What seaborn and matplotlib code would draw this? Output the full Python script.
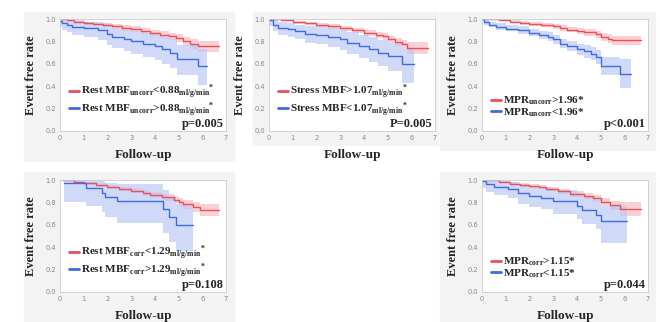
import matplotlib
matplotlib.use("Agg")
import matplotlib.pyplot as plt
from matplotlib.patches import Rectangle
import seaborn as sns

# Kaplan-Meier style curves.
# Panel 1: rest MBF uncorrected
p1_red_t = [0, 0.3, 0.6, 1.0, 1.4, 1.8, 2.2, 2.6, 3.0, 3.4, 3.8, 4.2, 4.6, 4.9, 5.2, 5.5, 5.8, 6.7]
p1_red_s = [1.0, 0.99, 0.975, 0.96, 0.955, 0.945, 0.935, 0.92, 0.91, 0.895, 0.875, 0.86, 0.845, 0.83, 0.80, 0.78, 0.755, 0.755]
p1_red_lo = [1.0, 0.98, 0.963, 0.945, 0.938, 0.926, 0.914, 0.897, 0.885, 0.868, 0.846, 0.83, 0.813, 0.795, 0.76, 0.735, 0.705, 0.705]
p1_red_hi = [1.0, 1.0, 0.987, 0.975, 0.972, 0.964, 0.956, 0.943, 0.935, 0.922, 0.904, 0.89, 0.877, 0.865, 0.84, 0.825, 0.805, 0.805]
p1_blue_t = [0, 0.1, 0.3, 0.5, 1.0, 1.6, 2.0, 2.2, 2.7, 3.0, 3.5, 4.0, 4.3, 4.65, 4.95, 5.8, 6.2]
p1_blue_s = [0.98, 0.96, 0.945, 0.93, 0.92, 0.90, 0.87, 0.84, 0.82, 0.80, 0.78, 0.76, 0.73, 0.70, 0.645, 0.58, 0.58]
p1_blue_lo = [0.93, 0.90, 0.88, 0.86, 0.84, 0.81, 0.77, 0.74, 0.71, 0.69, 0.66, 0.63, 0.60, 0.56, 0.50, 0.41, 0.41]
p1_blue_hi = [1.0, 1.0, 0.99, 0.98, 0.975, 0.96, 0.945, 0.92, 0.905, 0.89, 0.875, 0.86, 0.84, 0.82, 0.77, 0.73, 0.73]

# Panel 2: stress MBF
p2_red_t = [0, 0.5, 1.0, 1.5, 2.0, 2.5, 3.0, 3.5, 4.0, 4.5, 4.8, 5.0, 5.3, 5.6, 5.8, 6.7]
p2_red_s = [1.0, 0.99, 0.97, 0.96, 0.95, 0.935, 0.92, 0.90, 0.875, 0.86, 0.845, 0.82, 0.795, 0.775, 0.745, 0.745]
p2_red_lo = [1.0, 0.978, 0.955, 0.942, 0.93, 0.913, 0.896, 0.873, 0.845, 0.828, 0.811, 0.784, 0.755, 0.73, 0.69, 0.69]
p2_red_hi = [1.0, 1.0, 0.982, 0.974, 0.966, 0.953, 0.94, 0.922, 0.899, 0.886, 0.873, 0.85, 0.829, 0.815, 0.795, 0.795]
p2_blue_t = [0, 0.15, 0.4, 0.8, 1.1, 1.5, 2.0, 2.5, 3.0, 3.3, 3.8, 4.2, 4.6, 5.0, 5.6, 6.1]
p2_blue_s = [0.99, 0.95, 0.92, 0.91, 0.89, 0.87, 0.86, 0.84, 0.82, 0.79, 0.76, 0.73, 0.70, 0.67, 0.60, 0.60]
p2_blue_lo = [0.94, 0.89, 0.86, 0.84, 0.82, 0.79, 0.78, 0.75, 0.72, 0.69, 0.65, 0.62, 0.58, 0.54, 0.43, 0.43]
p2_blue_hi = [1.0, 0.99, 0.97, 0.965, 0.95, 0.94, 0.935, 0.92, 0.905, 0.885, 0.86, 0.84, 0.815, 0.79, 0.73, 0.73]

# Panel 3: MPR uncorrected
p3_red_t = [0, 0.7, 1.2, 1.6, 2.0, 2.5, 3.0, 3.3, 3.6, 4.0, 4.3, 4.8, 5.0, 5.3, 5.5, 6.7]
p3_red_s = [1.0, 0.99, 0.975, 0.965, 0.955, 0.945, 0.935, 0.92, 0.905, 0.895, 0.88, 0.865, 0.84, 0.825, 0.81, 0.81]
p3_red_lo = [1.0, 0.98, 0.962, 0.95, 0.938, 0.926, 0.914, 0.897, 0.88, 0.868, 0.851, 0.834, 0.805, 0.785, 0.765, 0.765]
p3_red_hi = [1.0, 1.0, 0.987, 0.979, 0.971, 0.963, 0.955, 0.942, 0.929, 0.921, 0.908, 0.895, 0.873, 0.862, 0.852, 0.852]
p3_blue_t = [0, 0.1, 0.3, 0.6, 1.0, 1.5, 2.0, 2.4, 2.8, 3.0, 3.3, 3.6, 4.0, 4.3, 4.6, 4.8, 5.0, 5.8, 6.3]
p3_blue_s = [1.0, 0.97, 0.95, 0.93, 0.915, 0.90, 0.875, 0.86, 0.84, 0.82, 0.78, 0.76, 0.73, 0.71, 0.69, 0.66, 0.58, 0.51, 0.51]
p3_blue_lo = [0.98, 0.95, 0.925, 0.905, 0.89, 0.87, 0.845, 0.825, 0.80, 0.78, 0.74, 0.715, 0.68, 0.655, 0.63, 0.595, 0.50, 0.38, 0.38]
p3_blue_hi = [1.0, 0.99, 0.975, 0.96, 0.945, 0.935, 0.91, 0.895, 0.88, 0.86, 0.825, 0.805, 0.78, 0.765, 0.75, 0.72, 0.66, 0.64, 0.64]

# Panel 4: rest MBF corrected
p4_red_t = [0.1, 0.6, 1.0, 1.5, 2.0, 2.5, 3.0, 3.5, 3.8, 4.3, 4.8, 5.0, 5.2, 5.6, 5.9, 6.7]
p4_red_s = [1.0, 0.98, 0.97, 0.955, 0.94, 0.92, 0.905, 0.885, 0.87, 0.845, 0.825, 0.80, 0.785, 0.76, 0.735, 0.735]
p4_red_lo = [1.0, 0.97, 0.957, 0.94, 0.922, 0.90, 0.882, 0.86, 0.843, 0.815, 0.792, 0.765, 0.745, 0.715, 0.675, 0.675]
p4_red_hi = [1.0, 0.99, 0.983, 0.97, 0.958, 0.94, 0.928, 0.91, 0.897, 0.875, 0.858, 0.835, 0.825, 0.805, 0.79, 0.79]
p4_blue_t = [0.15, 1.1, 1.75, 1.9, 2.4, 4.35, 4.6, 4.9, 5.6]
p4_blue_s = [0.975, 0.93, 0.88, 0.85, 0.81, 0.74, 0.67, 0.60, 0.60]
p4_blue_lo = [0.80, 0.77, 0.71, 0.67, 0.62, 0.53, 0.45, 0.37, 0.37]
p4_blue_hi = [1.0, 1.0, 0.99, 0.97, 0.96, 0.91, 0.85, 0.79, 0.79]

# Panel 5: MPR corrected
p5_red_t = [0, 0.7, 1.2, 1.6, 2.0, 2.4, 2.7, 3.2, 3.7, 4.3, 4.7, 5.0, 5.4, 5.8, 6.7]
p5_red_s = [1.0, 0.98, 0.965, 0.955, 0.945, 0.935, 0.92, 0.90, 0.875, 0.855, 0.835, 0.80, 0.775, 0.74, 0.74]
p5_red_lo = [1.0, 0.97, 0.952, 0.94, 0.928, 0.916, 0.899, 0.877, 0.85, 0.827, 0.804, 0.765, 0.735, 0.68, 0.68]
p5_red_hi = [1.0, 0.99, 0.978, 0.97, 0.962, 0.954, 0.941, 0.923, 0.90, 0.883, 0.866, 0.835, 0.815, 0.80, 0.80]
p5_blue_t = [0, 0.15, 0.5, 1.1, 1.5, 2.0, 2.5, 3.0, 4.0, 4.2, 4.8, 5.0, 6.1]
p5_blue_s = [0.99, 0.96, 0.94, 0.92, 0.88, 0.86, 0.84, 0.81, 0.77, 0.73, 0.69, 0.63, 0.63]
p5_blue_lo = [0.93, 0.89, 0.865, 0.84, 0.79, 0.76, 0.74, 0.70, 0.65, 0.61, 0.56, 0.44, 0.44]
p5_blue_hi = [1.0, 1.0, 0.99, 0.98, 0.96, 0.95, 0.935, 0.915, 0.885, 0.855, 0.82, 0.77, 0.77]

red_labels = [
    r"Rest MBF$_{\mathrm{uncorr}}$<0.88$_{\mathrm{ml/g/min}}$$^{*}$",
    r"Stress MBF>1.07$_{\mathrm{ml/g/min}}$$^{*}$",
    r"MPR$_{\mathrm{uncorr}}$>1.96*",
    r"Rest MBF$_{\mathrm{corr}}$<1.29$_{\mathrm{ml/g/min}}$$^{*}$",
    r"MPR$_{\mathrm{corr}}$>1.15*",
]
blue_labels = [
    r"Rest MBF$_{\mathrm{uncorr}}$>0.88$_{\mathrm{ml/g/min}}$$^{*}$",
    r"Stress MBF<1.07$_{\mathrm{ml/g/min}}$$^{*}$",
    r"MPR$_{\mathrm{uncorr}}$<1.96*",
    r"Rest MBF$_{\mathrm{corr}}$>1.29$_{\mathrm{ml/g/min}}$$^{*}$",
    r"MPR$_{\mathrm{corr}}$<1.15*",
]
p_values = ["p=0.005", "P=0.005", "p<0.001", "p=0.108", "p=0.044"]

sns.set_style("white")
plt.rcParams["mathtext.fontset"] = "custom"
plt.rcParams["mathtext.rm"] = "Liberation Serif:bold"
plt.rcParams["mathtext.it"] = "Liberation Serif:bold"
plt.rcParams["mathtext.bf"] = "Liberation Serif:bold"
serif = "Liberation Serif"

RED, RED_BAND = "#e8505a", "#f6b9be"
BLUE, BLUE_BAND = "#3d6be0", "#b9c6f6"

fig = plt.figure(figsize=(6.6, 3.22), dpi=100)
W, H = 660, 322

# light gray frames behind each panel (pixel boxes: x0, y0, x1, y1 from top)
for x0, y0, x1, y1 in [(24, 12, 234, 161), (253, 12, 438, 145), (440, 12, 655, 150),
                       (24, 172, 234, 322), (440, 172, 655, 322)]:
    fig.patches.append(Rectangle((x0 / W, 1 - y1 / H), (x1 - x0) / W, (y1 - y0) / H,
                                 transform=fig.transFigure, color="#f3f3f3", zorder=-5))

# axes boxes in pixels: left, top
boxes = [(60, 19), (269, 19), (482, 19), (60, 180), (482, 180)]
curves = [
    (p1_red_t, p1_red_s, p1_red_lo, p1_red_hi, p1_blue_t, p1_blue_s, p1_blue_lo, p1_blue_hi),
    (p2_red_t, p2_red_s, p2_red_lo, p2_red_hi, p2_blue_t, p2_blue_s, p2_blue_lo, p2_blue_hi),
    (p3_red_t, p3_red_s, p3_red_lo, p3_red_hi, p3_blue_t, p3_blue_s, p3_blue_lo, p3_blue_hi),
    (p4_red_t, p4_red_s, p4_red_lo, p4_red_hi, p4_blue_t, p4_blue_s, p4_blue_lo, p4_blue_hi),
    (p5_red_t, p5_red_s, p5_red_lo, p5_red_hi, p5_blue_t, p5_blue_s, p5_blue_lo, p5_blue_hi),
]

for i, ((left, top), c) in enumerate(zip(boxes, curves)):
    ax = fig.add_axes([left / W, 1 - (top + 112) / H, 166 / W, 112 / H])
    ax.set_zorder(1)
    ax.set_facecolor("white")
    rt, rs, rlo, rhi, bt, bs, blo, bhi = c

    ax.fill_between(rt, rlo, rhi, step="post", color=RED_BAND, alpha=0.65, lw=0)
    ax.fill_between(bt, blo, bhi, step="post", color=BLUE_BAND, alpha=0.65, lw=0)
    sns.lineplot(x=rt, y=rs, ax=ax, color=RED, lw=1.0, drawstyle="steps-post",
                 estimator=None, sort=False, label=red_labels[i])
    sns.lineplot(x=bt, y=bs, ax=ax, color=BLUE, lw=1.0, drawstyle="steps-post",
                 estimator=None, sort=False, label=blue_labels[i])

    ax.set_xlim(0, 7)
    ax.set_ylim(0, 1.0)
    ax.set_xticks(range(8))
    ax.set_yticks([0, 0.2, 0.4, 0.6, 0.8, 1.0])
    ax.set_yticklabels(["0.0", "0.2", "0.4", "0.6", "0.8", "1.0"])
    ax.tick_params(labelsize=4.8, colors="#888888", length=1.5, width=0.5, pad=1.5)
    for sp in ax.spines.values():
        sp.set_color("#cccccc")
        sp.set_linewidth(0.6)

    ax.set_ylabel("Event free rate", family=serif, weight="bold", fontsize=9, labelpad=6)
    ax.set_xlabel("Follow-up", family=serif, weight="bold", fontsize=9.5, labelpad=6)

    leg = ax.legend(loc="lower left", bbox_to_anchor=(0.025, 0.07), frameon=False,
                    prop={"family": serif, "weight": "bold", "size": 8},
                    handlelength=0.9, handletextpad=0.2, borderaxespad=0, labelspacing=-0.1)
    for h in leg.get_lines():
        h.set_linewidth(2.0)
    ax.text(0.985, 0.01, p_values[i], transform=ax.transAxes, ha="right", va="bottom",
            family=serif, weight="bold", fontsize=9)

fig.savefig("out.png", dpi=100, facecolor="white")
